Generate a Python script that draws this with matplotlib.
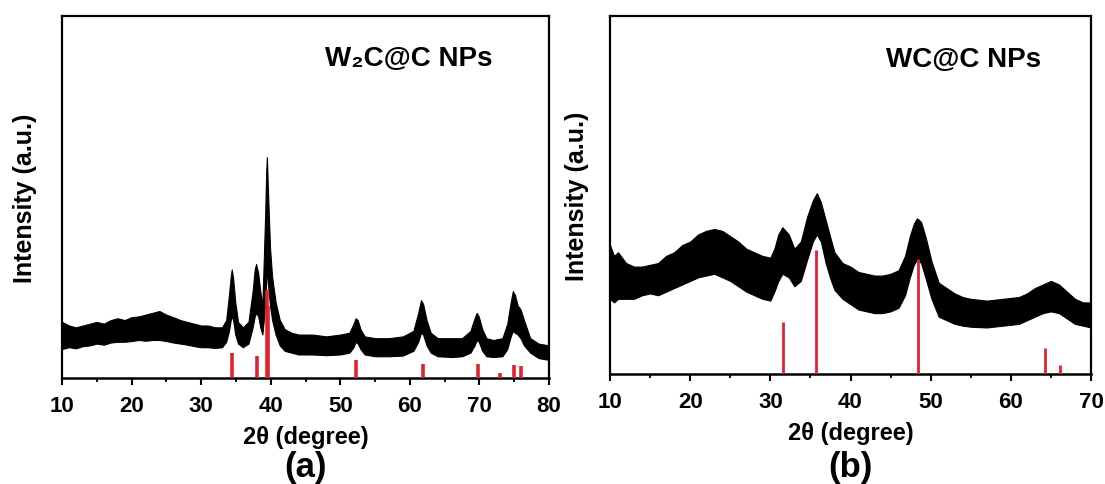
import numpy as np
import matplotlib
matplotlib.use("Agg")
import matplotlib.pyplot as plt
from matplotlib.ticker import MultipleLocator

plt.rcParams['font.family'] = ['Liberation Sans', 'DejaVu Sans']
plt.rcParams['font.weight'] = 'bold'

# ---- panel (a): W2C@C NPs, envelope of the noisy XRD trace
a_x = [10, 11, 12, 13, 14, 15, 16, 17, 18, 19, 20, 21, 22, 23, 24, 25, 26, 27, 28, 29,
       30, 31, 32, 33, 33.6, 34.0, 34.25, 34.4, 34.6, 34.9, 35.3, 36, 36.8, 37.4, 37.7,
       37.9, 38.2, 38.5, 38.8, 39.2, 39.35, 39.45, 39.6, 39.9, 40.2, 40.7, 41.3, 42, 43,
       44, 46, 48, 50, 51.3, 51.9, 52.2, 52.5, 52.9, 53.5, 55, 57, 59, 60.5, 61.2, 61.6,
       61.9, 62.4, 63, 64, 66, 67.5, 68.7, 69.3, 69.6, 69.9, 70.4, 71, 72, 73.3, 74,
       74.5, 74.8, 75.1, 75.5, 75.9, 76.4, 77.3, 78.5, 80]
a_hi = [15.5, 14.5, 14, 14.5, 15, 15.5, 15, 16, 16.5, 16, 16.8, 17, 17.5, 18, 18.5, 17.5,
        16.8, 16, 15.5, 15, 14.5, 14.5, 14, 14, 16, 23, 28, 30, 27.5, 21, 15.5, 14, 15.5,
        24, 30, 31.5, 29, 24, 20, 45, 57, 61, 52, 36, 28, 21, 16, 13.5, 12.5,
        12, 12, 11.5, 12, 12.5, 15, 16.5, 16, 13.5, 11.5, 11, 11, 11.5, 13, 18, 21.5,
        20.5, 16, 12.5, 11, 11, 11, 13, 16.5, 18, 17, 13.5, 11, 10.5, 11, 15,
        21, 24, 23, 20, 19, 16, 11, 9.5, 9]
a_lo = [8, 8.5, 8.2, 8.8, 9, 9.5, 9.2, 9.8, 10, 10, 10.2, 10.5, 10.3, 10.5, 10.5, 10.2,
        9.8, 9.5, 9.2, 8.8, 8.5, 8.5, 8.3, 8.5, 10, 13, 16, 17, 16, 12, 9.5, 8.5, 9.5,
        14, 17, 18, 17, 14, 12, 20, 27, 30, 26, 20, 16, 12, 9, 7.5, 7,
        6.5, 6.5, 6.3, 6.5, 7, 8.5, 10, 9.5, 8, 6.5, 6, 6, 6.2, 7.5, 10, 12.5,
        12, 9, 7, 6, 5.8, 6, 7, 9, 10.5, 10, 7.5, 6, 5.8, 6, 8,
        11.5, 13, 12.5, 12, 11, 9, 7, 5.5, 5]
# reference pattern (red sticks)
a_ref_pos = [34.5, 38.0, 39.4, 39.6, 52.3, 61.9, 69.8, 72.9, 75.0, 76.0]
a_ref_h = [6.9, 6.1, 24.4, 20.0, 5.0, 4.0, 4.0, 1.4, 3.6, 3.3]

# ---- panel (b): WC@C NPs
b_x = [10, 10.5, 11, 12, 13, 14, 15, 16, 17, 18, 19, 20, 21, 22, 23, 24, 25, 26, 27, 28,
       29, 30, 30.5, 31, 31.5, 32.3, 33, 33.8, 34.6, 35.3, 35.8, 36.3, 36.9, 37.5, 38,
       39, 40, 41, 42, 43, 44, 45, 46, 46.8, 47.4, 47.9, 48.3, 48.8, 49.4, 50.1, 51, 52,
       53, 54, 55, 57, 59, 61, 62, 63, 64, 65, 66, 67, 68, 69, 70]
b_hi = [36, 33, 34, 31, 30, 30, 30.5, 31, 33, 34, 36, 37, 39, 40, 40.5, 40, 38.5, 37, 35,
        34, 33, 32.5, 35, 39, 41, 39, 35, 37, 44, 48.5, 50.5, 48, 43, 38, 34,
        31, 30, 28.5, 28, 27.5, 27.5, 28, 29, 33, 38.5, 42, 43.5, 42.5, 38, 31.5, 25.5, 24,
        22.5, 21.5, 21, 20.5, 21, 21.5, 22.5, 24, 25, 26, 25, 23, 21, 20, 20]
b_lo = [21, 20, 21, 21, 21, 22, 22.5, 22, 23, 24, 25, 26, 27, 27.5, 28, 27, 26, 24.5, 23,
        22, 21, 20.5, 23, 26, 28, 27, 24.5, 26, 32, 37, 39, 37, 31, 26.5, 23.5,
        21, 19.5, 18, 17.5, 17, 17, 17.5, 18.5, 22, 27, 30.5, 32, 31, 26.5, 21, 16, 15,
        14, 13.5, 13.2, 13, 13.5, 14, 15, 16, 17, 17.5, 17, 15.5, 14, 13.5, 13]
b_ref_pos = [31.6, 35.7, 48.4, 64.3, 66.1]
b_ref_h = [14.4, 34.5, 32.0, 7.4, 2.5]

red = '#e0242f'

fig = plt.figure(figsize=(11.05, 4.85), dpi=100)
ax1 = fig.add_axes([62 / 1105, 1 - 379 / 485, 487 / 1105, 362 / 485])
ax2 = fig.add_axes([610 / 1105, 1 - 375 / 485, 481 / 1105, 358 / 485])


def draw(ax, x, hi, lo, rpos, rh, xmax, rlw, title, tx, ty, ypad):
    ax.fill_between(x, lo, hi, color='black', lw=0.8, edgecolor='black')
    ax.vlines(rpos, 0, rh, color=red, lw=rlw, zorder=3)
    ax.set_xlim(10, xmax)
    ax.set_ylim(0, 100)
    ax.set_yticks([])
    ax.xaxis.set_major_locator(MultipleLocator(10))
    ax.xaxis.set_minor_locator(MultipleLocator(5))
    ax.tick_params(axis='x', which='major', direction='out', length=5, width=1.5,
                   labelsize=16, pad=7)
    ax.tick_params(axis='x', which='minor', direction='out', length=3, width=1.3)
    for s in ax.spines.values():
        s.set_linewidth(1.6)
    ax.spines['bottom'].set_linewidth(1.8)
    ax.set_xlabel('2θ (degree)', fontsize=17, fontweight='bold', labelpad=7)
    ax.set_ylabel('Intensity (a.u.)', fontsize=18, fontweight='bold', labelpad=ypad)
    ax.text(tx, ty, title, transform=ax.transAxes, fontsize=20, fontweight='bold',
            ha='left', va='center')


draw(ax1, a_x, a_hi, a_lo, a_ref_pos, a_ref_h, 80, 2.6, 'W₂C@C NPs', 0.54, 0.885, 18)
draw(ax2, b_x, b_hi, b_lo, b_ref_pos, b_ref_h, 70, 2.0, 'WC@C NPs', 0.574, 0.88, 15)

fig.text(305 / 1105, 1 - 468 / 485, '(a)', fontsize=25, fontweight='bold',
         ha='center', va='center')
fig.text(850 / 1105, 1 - 468 / 485, '(b)', fontsize=25, fontweight='bold',
         ha='center', va='center')

fig.savefig('out.png', dpi=100)
